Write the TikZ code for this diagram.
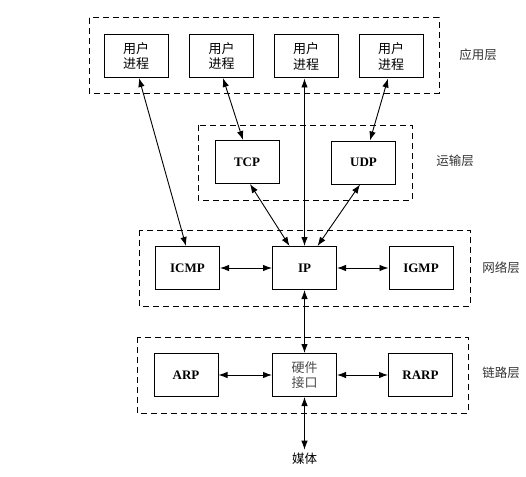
\documentclass[tikz,border=0pt]{standalone}
\usepackage{fontspec}
\setmainfont{Liberation Serif}
\newfontfamily\cjk{Noto Sans CJK SC}
\usetikzlibrary{arrows.meta}
\begin{document}
\begin{tikzpicture}[x=1pt,y=-1pt,
 box/.style={draw, line width=1pt, minimum width=64pt, minimum height=43pt, inner sep=0pt, font=\bfseries\fontsize{13}{15}\selectfont},
 cbox/.style={box, font=\cjk\fontsize{13}{15.5}\selectfont, align=center},
 layer/.style={draw, dash pattern=on 6pt off 4pt, line width=1pt},
 lab/.style={font=\cjk\fontsize{12.5}{14}\selectfont, text=black!80},
 conn/.style={{Latex[length=9pt,width=6.5pt]}-{Latex[length=9pt,width=6.5pt]}, line width=0.9pt}
]
\useasboundingbox (0,0) rectangle (526,476);
% layers
\draw[layer] (89,18) rectangle (439,93);
\draw[layer] (198,125) rectangle (412,200);
\draw[layer] (139,230) rectangle (470,306);
\draw[layer] (137,337) rectangle (468,413);
% layer labels
\node[lab] (lapp) at (478,55) {应用层};
\node[lab] (ltr) at (455,161) {运输层};
\node[lab] (lnet) at (501,268) {网络层};
\node[lab] (llink) at (501,373) {链路层};
% nodes
\node[cbox] (u1) at (136,56) {用户\\进程};
\node[cbox] (u2) at (221.5,56) {用户\\进程};
\node[cbox] (u3) at (306,56.5) {用户\\进程};
\node[cbox] (u4) at (391,56.5) {用户\\进程};
\node[box] (tcp) at (247,162) {TCP};
\node[box] (udp) at (363.5,162.5) {UDP};
\node[box] (icmp) at (187.5,268) {ICMP};
\node[box] (ip) at (304.5,268) {IP};
\node[box] (igmp) at (421,268) {IGMP};
\node[box] (arp) at (186,375) {ARP};
\node[cbox, font=\cjk\fontsize{13}{15.5}\selectfont\color{black!70}] (hw) at (304.5,375) {硬件\\接口};
\node[box] (rarp) at (420.5,375) {RARP};
\node[lab, text=black] (media) at (304.5,459) {媒体};
% connectors
\draw[conn] ([xshift=3pt]u1.south) -- ([xshift=-1.5pt]icmp.north);
\draw[conn] ([xshift=1.5pt]u2.south) -- ([xshift=-4pt]tcp.north);
\draw[conn] ([xshift=-1.5pt]u3.south) -- ([xshift=0pt]ip.north);
\draw[conn] ([xshift=-3pt]u4.south) -- ([xshift=6.5pt]udp.north);
\draw[conn] ([xshift=3pt]tcp.south) -- ([xshift=-15pt]ip.north);
\draw[conn] ([xshift=-3.5pt]udp.south) -- ([xshift=13pt]ip.north);
\draw[conn] (icmp.east) -- (ip.west);
\draw[conn] (ip.east) -- (igmp.west);
\draw[conn] (ip.south) -- (hw.north);
\draw[conn] (arp.east) -- (hw.west);
\draw[conn] (hw.east) -- (rarp.west);
\draw[conn] (hw.south) -- (media.north);
\end{tikzpicture}
\end{document}
